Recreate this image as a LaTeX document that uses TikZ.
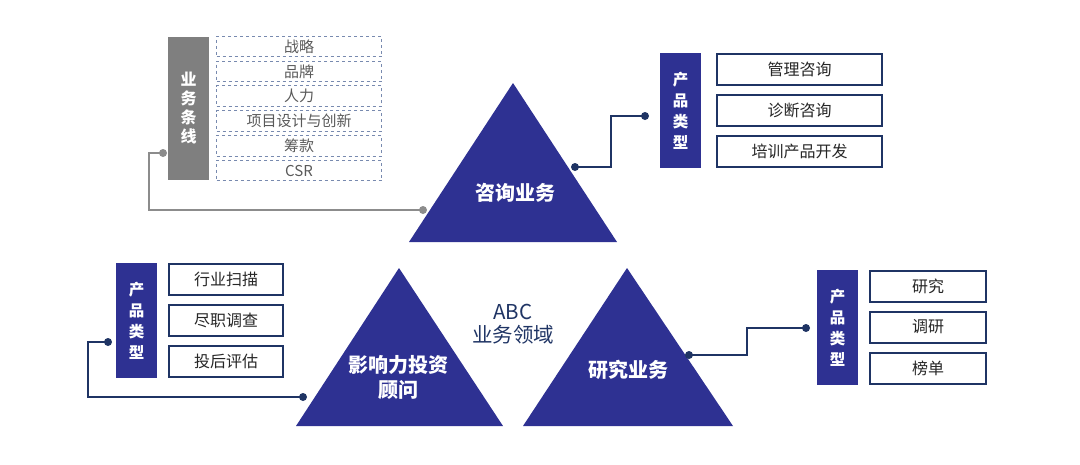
\documentclass[tikz,border=0pt]{standalone}
\usepackage{fontspec}
\setmainfont{Noto Sans CJK SC}
\definecolor{navy}{RGB}{46,49,146}
\definecolor{darkline}{RGB}{31,52,100}
\definecolor{graybox}{RGB}{127,127,127}
\definecolor{grayline}{RGB}{140,140,140}
\definecolor{dashblue}{RGB}{120,138,175}
\definecolor{dashtext}{RGB}{90,90,90}
\tikzset{
  tri/.style={fill=navy, draw=none},
  trilabel/.style={text=white, font=\bfseries\fontsize{20}{25}\selectfont, align=center, inner sep=0pt},
  catbox/.style={fill=navy, text=white, minimum width=41pt, minimum height=115pt, inner sep=0pt, align=center, font=\bfseries\fontsize{15.5}{21}\selectfont},
  linebox/.style={fill=graybox, text=white, minimum width=41pt, minimum height=143pt, inner sep=0pt, align=center, font=\bfseries\fontsize{16}{19}\selectfont},
  itembox/.style={draw=darkline, line width=2pt, fill=white, minimum height=31pt, inner sep=0pt, font=\fontsize{16}{18}\selectfont, text=black!85},
  dashbox/.style={draw=dashblue, dashed, line width=0.8pt, minimum width=165pt, minimum height=20.5pt, inner sep=0pt, font=\fontsize{15}{17}\selectfont, text=dashtext},
  navyconn/.style={draw=darkline, line width=2pt},
  grayconn/.style={draw=grayline, line width=2pt},
  navydot/.style={fill=darkline},
  graydot/.style={fill=grayline},
}
\begin{document}
\begin{tikzpicture}[x=1pt,y=-1pt]
\useasboundingbox (0,0) rectangle (1080,464);

% ---------- triangles ----------
\coordinate (t1a) at (513,83);  \coordinate (t1l) at (409,242); \coordinate (t1r) at (617,242);
\coordinate (t2a) at (399,268); \coordinate (t2l) at (296,426); \coordinate (t2r) at (503,426);
\coordinate (t3a) at (627,268); \coordinate (t3l) at (523,426); \coordinate (t3r) at (733,426);
\fill[tri] (t1a) -- (t1l) -- (t1r) -- cycle;
\fill[tri] (t2a) -- (t2l) -- (t2r) -- cycle;
\fill[tri] (t3a) -- (t3l) -- (t3r) -- cycle;
\node[trilabel] (consult) at (515,193) {咨询业务};
\node[trilabel] (impact) at (398,377) {影响力投资\\顾问};
\node[trilabel] (research) at (628,370) {研究业务};
\node[font=\fontsize{20.5}{23}\selectfont, text=darkline, align=center, inner sep=0pt] (abc) at (513,324) {ABC\\业务领域};

% ---------- top-left: 业务条线 ----------
\node[linebox] (lines) at (188.5,108.5) {业\\务\\条\\线};
\node[dashbox] (d1) at (299,46.5) {战略};
\node[dashbox] (d2) at (299,71.3) {品牌};
\node[dashbox] (d3) at (299,96.1) {人力};
\node[dashbox] (d4) at (299,120.9) {项目设计与创新};
\node[dashbox] (d5) at (299,145.7) {筹款};
\node[dashbox] (d6) at (299,170.5) {CSR};

% ---------- top-right: 咨询产品类型 ----------
\node[catbox] (cat1) at (680.5,110.5) {产\\品\\类\\型};
\node[itembox, minimum width=165pt] (c1) at (799.5,69.5) {管理咨询};
\node[itembox, minimum width=165pt] (c2) at (799.5,110.5) {诊断咨询};
\node[itembox, minimum width=165pt] (c3) at (799.5,151.5) {培训产品开发};

% ---------- bottom-left: 影响力投资产品类型 ----------
\node[catbox] (cat2) at (136.5,320.5) {产\\品\\类\\型};
\node[itembox, minimum width=114pt] (i1) at (226,279) {行业扫描};
\node[itembox, minimum width=114pt] (i2) at (226,320) {尽职调查};
\node[itembox, minimum width=114pt] (i3) at (226,361) {投后评估};

% ---------- bottom-right: 研究产品类型 ----------
\node[catbox] (cat3) at (837.5,327.5) {产\\品\\类\\型};
\node[itembox, minimum width=116pt] (r1b) at (928,286) {研究};
\node[itembox, minimum width=116pt] (r2b) at (928,327) {调研};
\node[itembox, minimum width=116pt] (r3b) at (928,368) {榜单};

% ---------- connectors ----------
\coordinate (g1) at (163,153);  \coordinate (g2) at (423,210);
\coordinate (n1) at (575,167);  \coordinate (n2) at (645,116);
\coordinate (b1) at (108,342);  \coordinate (b2) at (303,397);
\coordinate (q1) at (689,355);  \coordinate (q2) at (806,328);

\draw[grayconn] (g1) -- ++(-14,0) |- (g2);
\fill[graydot] (g1) circle (4); \fill[graydot] (g2) circle (4);

\draw[navyconn] (n1) -- ++(36,0) |- (n2);
\fill[navydot] (n1) circle (4); \fill[navydot] (n2) circle (4);

\draw[navyconn] (b1) -- ++(-20,0) |- (b2);
\fill[navydot] (b1) circle (4); \fill[navydot] (b2) circle (4);

\draw[navyconn] (q1) -- ++(58,0) |- (q2);
\fill[navydot] (q1) circle (4); \fill[navydot] (q2) circle (4);
\end{tikzpicture}
\end{document}
